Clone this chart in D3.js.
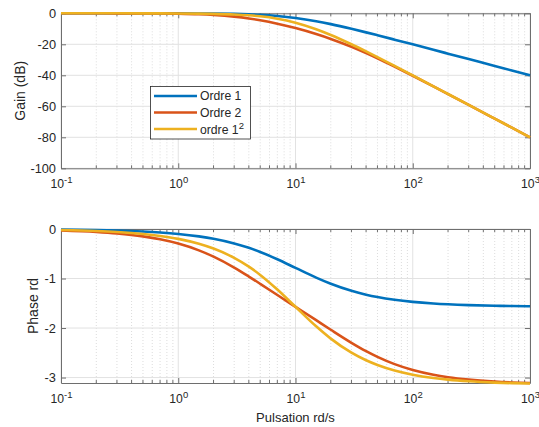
<!DOCTYPE html>
<html>
<head>
<meta charset="utf-8">
<script src="https://cdn.jsdelivr.net/npm/d3@7"></script>
<style>
  body { margin: 0; background: #fff; }
  svg { font-family: "Liberation Sans", Arial, sans-serif; }
</style>
</head>
<body>
<div class="container"></div>
<script>
// pulsation (rd/s)
var freqs = [0.1, 0.2, 0.3, 0.5, 0.7, 1, 1.5, 2, 3, 4, 5, 7, 10, 15, 20, 30, 40, 50, 70, 100, 150, 200, 300, 500, 700, 1000];

// gain (dB)
var gain1 = [0, -0.002, -0.004, -0.011, -0.021, -0.043, -0.097, -0.17, -0.374, -0.645, -0.969, -1.732, -3.01, -5.119, -6.99, -10, -12.304, -14.15, -16.99, -20.043, -23.541, -26.031, -29.547, -33.981, -36.902, -40];
var gain2 = [-0.003, -0.012, -0.027, -0.075, -0.146, -0.294, -0.637, -1.078, -2.143, -3.316, -4.491, -6.693, -9.542, -13.387, -16.532, -21.614, -25.67, -29.036, -34.385, -40.294, -47.177, -52.116, -59.118, -67.971, -73.81, -80.003];
var gain1sq = [-0.001, -0.004, -0.008, -0.022, -0.042, -0.086, -0.193, -0.341, -0.749, -1.289, -1.938, -3.464, -6.021, -10.238, -13.979, -20, -24.609, -28.299, -33.979, -40.086, -47.082, -52.063, -59.094, -67.962, -73.804, -80.001];

// phase (rd)
var phase1 = [-0.01, -0.02, -0.03, -0.05, -0.07, -0.0997, -0.149, -0.197, -0.2915, -0.3805, -0.4636, -0.611, -0.785, -0.9828, -1.1071, -1.249, -1.3258, -1.3734, -1.4289, -1.4711, -1.5042, -1.5208, -1.5375, -1.5508, -1.5565, -1.5608];
var phase2 = [-0.03, -0.06, -0.09, -0.149, -0.208, -0.294, -0.4315, -0.5586, -0.779, -0.96, -1.107, -1.3329, -1.571, -1.8418, -2.0344, -2.2974, -2.4669, -2.583, -2.7292, -2.8474, -2.9431, -2.9924, -3.0418, -3.0816, -3.0987, -3.1116];
var phase1sq = [-0.02, -0.04, -0.06, -0.1, -0.14, -0.199, -0.298, -0.395, -0.583, -0.761, -0.927, -1.222, -1.571, -1.9656, -2.2143, -2.498, -2.6516, -2.7468, -2.8578, -2.9423, -3.0084, -3.0417, -3.075, -3.1016, -3.113, -3.1216];

var seriesNames = ["Ordre 1", "Ordre 2", "ordre 1"];
var colors = ["#0072BD", "#D95319", "#EDB120"];
var xTicks = [0.1, 1, 10, 100, 1000];
var gainTicks = [0, -20, -40, -60, -80, -100];
var phaseTicks = [0, -1, -2, -3];

var W = 539, H = 427;
var left = 61, right = 530;

var svg = d3.select(".container")
    .append("svg")
    .attr("width", W)
    .attr("height", H);

var x = d3.scaleLog()
    .domain([0.1, 1000])
    .range([left, right]);

var minor = [];
[0.1, 1, 10, 100].forEach(function (d) {
    for (var k = 2; k <= 9; k++) minor.push(d * k);
});

function supLabel(sel) {
    sel.each(function (d) {
        var t = d3.select(this);
        var e = Math.round(Math.log10(d));
        t.text("");
        t.append("tspan").text("10");
        t.append("tspan").attr("dy", "-0.5em").attr("font-size", "9.5px").text(e);
    });
}

function panel(top, bottom, yDomain, yTicks, series, ylabel, labelX) {
    var y = d3.scaleLinear().domain(yDomain).range([bottom, top]);
    var g = svg.append("g");

    // grid
    g.selectAll(".minor").data(minor).enter().append("line")
        .attr("x1", function (d) { return x(d); })
        .attr("x2", function (d) { return x(d); })
        .attr("y1", top).attr("y2", bottom)
        .attr("stroke", "#dcdcdc")
        .attr("stroke-dasharray", "1,2");
    g.selectAll(".xg").data(xTicks).enter().append("line")
        .attr("x1", function (d) { return x(d); })
        .attr("x2", function (d) { return x(d); })
        .attr("y1", top).attr("y2", bottom)
        .attr("stroke", "#e2e2e2");
    g.selectAll(".yg").data(yTicks).enter().append("line")
        .attr("x1", left).attr("x2", right)
        .attr("y1", function (d) { return y(d); })
        .attr("y2", function (d) { return y(d); })
        .attr("stroke", "#e2e2e2");

    // axes
    var xb = g.append("g")
        .attr("transform", "translate(0," + bottom + ")")
        .call(d3.axisBottom(x).tickValues(xTicks).tickSizeInner(-5).tickSizeOuter(0).tickPadding(11));
    g.append("g")
        .attr("transform", "translate(0," + top + ")")
        .call(d3.axisTop(x).tickValues(xTicks).tickSizeInner(-5).tickSizeOuter(0).tickFormat(""));
    g.selectAll(".mt").data(minor).enter().append("line")
        .attr("x1", function (d) { return x(d); })
        .attr("x2", function (d) { return x(d); })
        .attr("y1", bottom).attr("y2", bottom - 3)
        .attr("stroke", "#6e6e6e");
    g.selectAll(".mtt").data(minor).enter().append("line")
        .attr("x1", function (d) { return x(d); })
        .attr("x2", function (d) { return x(d); })
        .attr("y1", top).attr("y2", top + 3)
        .attr("stroke", "#6e6e6e");
    var yl = g.append("g")
        .attr("transform", "translate(" + left + ",0)")
        .call(d3.axisLeft(y).tickValues(yTicks).tickSizeInner(-5).tickSizeOuter(0).tickPadding(5)
            .tickFormat(function (d) { return String(d); }));
    g.append("g")
        .attr("transform", "translate(" + right + ",0)")
        .call(d3.axisRight(y).tickValues(yTicks).tickSizeInner(-5).tickSizeOuter(0).tickFormat(""));

    g.selectAll(".domain").attr("stroke", "#6e6e6e");
    g.selectAll(".tick line").attr("stroke", "#6e6e6e");
    g.selectAll(".tick text").attr("fill", "#262626")
        .attr("font-family", "Liberation Sans, Arial, sans-serif");
    yl.selectAll("text").attr("font-size", "12.8px");
    xb.selectAll("text").attr("font-size", "12.2px").call(supLabel);

    // curves
    var line = d3.line()
        .x(function (d) { return x(d[0]); })
        .y(function (d) { return y(d[1]); })
        .curve(d3.curveMonotoneX);
    series.forEach(function (s, i) {
        g.append("path")
            .datum(freqs.map(function (f, j) { return [f, s[j]]; }))
            .attr("d", line)
            .attr("fill", "none")
            .attr("stroke", colors[i])
            .attr("stroke-width", 2.6);
    });

    g.append("text")
        .attr("transform", "translate(" + labelX + "," + ((top + bottom) / 2) + ") rotate(-90)")
        .attr("text-anchor", "middle")
        .attr("fill", "#262626")
        .attr("font-size", "14px")
        .text(ylabel);
    return y;
}

panel(13.3, 168.3, [-100, 0], gainTicks, [gain1, gain2, gain1sq], "Gain (dB)", 25);
panel(229, 383, [-3.11, 0], phaseTicks, [phase1, phase2, phase1sq], "Phase rd", 38);

svg.append("text")
    .attr("x", (left + right) / 2)
    .attr("y", 422)
    .attr("text-anchor", "middle")
    .attr("fill", "#262626")
    .attr("font-size", "13px")
    .text("Pulsation rd/s");

// legend
var lg = svg.append("g");
lg.append("rect")
    .attr("x", 150.5).attr("y", 86.5)
    .attr("width", 100).attr("height", 52.5)
    .attr("fill", "#fff")
    .attr("stroke", "#262626")
    .attr("stroke-width", 0.8);
seriesNames.forEach(function (n, i) {
    var cy = 96 + i * 16.5;
    lg.append("line")
        .attr("x1", 154).attr("x2", 197)
        .attr("y1", cy).attr("y2", cy)
        .attr("stroke", colors[i])
        .attr("stroke-width", 2.6);
    var t = lg.append("text")
        .attr("x", 200).attr("y", cy + 4.3 + (i === 2 ? 1 : 0))
        .attr("fill", "#262626")
        .attr("font-size", "12.2px")
        .text(n);
    if (i === 2) {
        t.append("tspan").attr("dy", "-0.55em").attr("font-size", "9.5px").text("2");
    }
});
</script>
</body>
</html>
